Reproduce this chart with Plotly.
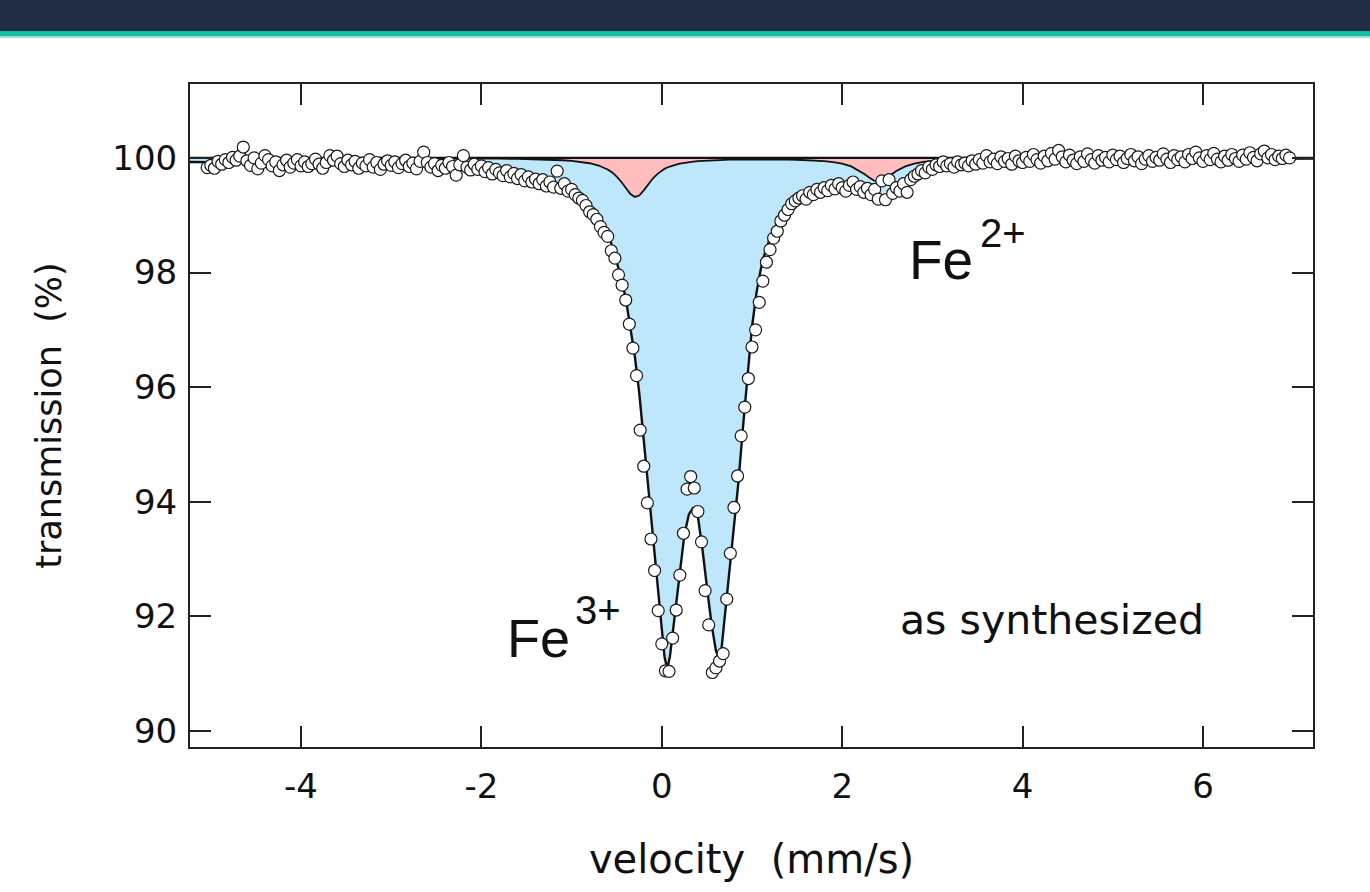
import plotly.graph_objects as go

# ---------------- data ----------------
velocity = [
    -5.04, -5.00, -4.96, -4.92, -4.88, -4.84, -4.80, -4.76, -4.72, -4.68,
    -4.64, -4.60, -4.56, -4.52, -4.48, -4.44, -4.40, -4.36, -4.32, -4.28,
    -4.24, -4.20, -4.16, -4.12, -4.08, -4.04, -4.00, -3.96, -3.92, -3.88,
    -3.84, -3.80, -3.76, -3.72, -3.68, -3.64, -3.60, -3.56, -3.52, -3.48,
    -3.44, -3.40, -3.36, -3.32, -3.28, -3.24, -3.20, -3.16, -3.12, -3.08,
    -3.04, -3.00, -2.96, -2.92, -2.88, -2.84, -2.80, -2.76, -2.72, -2.68,
    -2.64, -2.60, -2.56, -2.52, -2.48, -2.44, -2.40, -2.36, -2.32, -2.28,
    -2.24, -2.20, -2.16, -2.12, -2.08, -2.04, -2.00, -1.96, -1.92, -1.88,
    -1.84, -1.80, -1.76, -1.72, -1.68, -1.64, -1.60, -1.56, -1.52, -1.48,
    -1.44, -1.40, -1.36, -1.32, -1.28, -1.24, -1.20, -1.16, -1.12, -1.08,
    -1.04, -1.00, -0.96, -0.92, -0.88, -0.84, -0.80, -0.76, -0.72, -0.68,
    -0.64, -0.60, -0.56, -0.52, -0.48, -0.44, -0.40, -0.36, -0.32, -0.28,
    -0.24, -0.20, -0.16, -0.12, -0.08, -0.04, 0.00, 0.04, 0.08, 0.12,
    0.16, 0.20, 0.24, 0.28, 0.32, 0.36, 0.40, 0.44, 0.48, 0.52,
    0.56, 0.60, 0.64, 0.68, 0.72, 0.76, 0.80, 0.84, 0.88, 0.92,
    0.96, 1.00, 1.04, 1.08, 1.12, 1.16, 1.20, 1.24, 1.28, 1.32,
    1.36, 1.40, 1.44, 1.48, 1.52, 1.56, 1.60, 1.64, 1.68, 1.72,
    1.76, 1.80, 1.84, 1.88, 1.92, 1.96, 2.00, 2.04, 2.08, 2.12,
    2.16, 2.20, 2.24, 2.28, 2.32, 2.36, 2.40, 2.44, 2.48, 2.52,
    2.56, 2.60, 2.64, 2.68, 2.72, 2.76, 2.80, 2.84, 2.88, 2.92,
    2.96, 3.00, 3.04, 3.08, 3.12, 3.16, 3.20, 3.24, 3.28, 3.32,
    3.36, 3.40, 3.44, 3.48, 3.52, 3.56, 3.60, 3.64, 3.68, 3.72,
    3.76, 3.80, 3.84, 3.88, 3.92, 3.96, 4.00, 4.04, 4.08, 4.12,
    4.16, 4.20, 4.24, 4.28, 4.32, 4.36, 4.40, 4.44, 4.48, 4.52,
    4.56, 4.60, 4.64, 4.68, 4.72, 4.76, 4.80, 4.84, 4.88, 4.92,
    4.96, 5.00, 5.04, 5.08, 5.12, 5.16, 5.20, 5.24, 5.28, 5.32,
    5.36, 5.40, 5.44, 5.48, 5.52, 5.56, 5.60, 5.64, 5.68, 5.72,
    5.76, 5.80, 5.84, 5.88, 5.92, 5.96, 6.00, 6.04, 6.08, 6.12,
    6.16, 6.20, 6.24, 6.28, 6.32, 6.36, 6.40, 6.44, 6.48, 6.52,
    6.56, 6.60, 6.64, 6.68, 6.72, 6.76, 6.80, 6.84, 6.88, 6.92,
    6.96,
]

transmission = [
    99.83, 99.87, 99.82, 99.94, 99.89, 99.97, 99.92, 100.01, 99.96, 100.03,
    100.19, 99.95, 99.87, 100.00, 99.81, 99.91, 100.04, 99.97, 99.86, 99.93,
    99.78, 99.88, 99.96, 99.84, 99.91, 99.97, 99.86, 99.93, 99.85, 99.90,
    99.98, 99.89, 99.82, 99.92, 100.04, 99.96, 100.03, 99.90, 99.85, 99.96,
    99.88, 99.94, 99.82, 99.91, 99.86, 99.97, 99.84, 99.92, 99.80, 99.89,
    99.95, 99.87, 99.93, 99.83, 99.90, 99.96, 99.85, 99.91, 99.81, 99.94,
    100.10, 99.92, 99.84, 99.90, 99.78, 99.87, 99.82, 99.92, 99.85, 99.70,
    99.88, 100.04, 99.84, 99.79, 99.89, 99.80, 99.86, 99.76, 99.83, 99.72,
    99.80, 99.74, 99.69, 99.78, 99.67, 99.73, 99.64, 99.71, 99.60, 99.67,
    99.58, 99.63, 99.55, 99.62, 99.51, 99.58, 99.49, 99.77, 99.47, 99.55,
    99.42, 99.45, 99.36, 99.30, 99.26, 99.17, 99.06, 99.01, 98.93, 98.80,
    98.70, 98.63, 98.38, 98.25, 97.96, 97.78, 97.52, 97.10, 96.68, 96.20,
    95.25, 94.62, 93.98, 93.35, 92.80, 92.10, 91.52, 91.05, 91.04, 91.62,
    92.11, 92.72, 93.45, 94.22, 94.44, 94.24, 93.83, 93.30, 92.45, 91.85,
    91.02, 91.10, 91.22, 91.35, 92.30, 93.10, 93.90, 94.45, 95.15, 95.65,
    96.15, 96.70, 97.00, 97.48, 97.85, 98.18, 98.40, 98.60, 98.72, 98.90,
    99.00, 99.10, 99.20, 99.25, 99.30, 99.34, 99.28, 99.40, 99.36, 99.45,
    99.40, 99.48, 99.43, 99.52, 99.46, 99.55, 99.48, 99.42, 99.52, 99.58,
    99.45, 99.50, 99.40, 99.47, 99.36, 99.45, 99.28, 99.60, 99.27, 99.62,
    99.38, 99.48, 99.42, 99.55, 99.40, 99.62, 99.68, 99.72, 99.78, 99.74,
    99.84, 99.80, 99.88, 99.85, 99.93, 99.86, 99.90, 99.84, 99.93, 99.88,
    99.91, 99.86, 99.95, 99.89, 99.97, 99.91, 100.04, 99.93, 99.98, 99.90,
    100.02, 99.94, 99.99, 99.89, 100.03, 99.95, 99.92, 100.01, 99.94, 100.06,
    99.97, 99.91, 100.03, 99.95, 100.08, 99.98, 100.13, 100.02, 99.93, 100.05,
    99.96, 99.90, 100.02, 99.94, 100.07, 99.97, 99.91, 100.04, 99.96, 100.01,
    99.93, 100.05, 99.97, 100.03, 99.92, 99.99, 100.06, 99.95, 100.02, 99.90,
    99.98, 100.04, 99.94, 100.01, 99.96, 100.07, 99.98, 99.92, 100.04, 99.97,
    100.02, 99.93, 100.06, 99.99, 100.10, 100.00, 99.94, 100.04, 99.97, 100.08,
    99.98, 99.93, 100.03, 99.96, 100.06, 99.99, 99.94, 100.05, 99.98, 100.09,
    100.01, 99.95, 100.07, 100.12, 100.00, 100.06, 99.97, 100.03, 99.99, 100.05,
    100.00,
]

# fitted curves
curve_velocity = [
    -5.25, -4.5, -4.0, -3.5, -3.0, -2.5, -2.0, -1.8, -1.6, -1.4,
    -1.2, -1.1, -1.0, -0.9, -0.8, -0.7, -0.6, -0.55, -0.5, -0.45,
    -0.4, -0.35, -0.3, -0.25, -0.2, -0.15, -0.1, -0.05, 0.0, 0.03,
    0.06, 0.09, 0.12, 0.15, 0.2, 0.25, 0.3, 0.35, 0.4, 0.45,
    0.5, 0.55, 0.6, 0.63, 0.66, 0.7, 0.75, 0.8, 0.85, 0.9,
    0.95, 1.0, 1.05, 1.1, 1.15, 1.2, 1.3, 1.4, 1.5, 1.6,
    1.7, 1.8, 1.9, 2.0, 2.1, 2.2, 2.25, 2.3, 2.35, 2.4,
    2.45, 2.5, 2.55, 2.6, 2.7, 2.8, 2.9, 3.0, 3.2, 3.5,
    4.0, 5.0, 6.0, 7.25,
]

fe2_curve = [
    100.0, 100.0, 100.0, 99.996, 99.996, 99.994, 99.99, 99.987, 99.983, 99.977,
    99.967, 99.959, 99.948, 99.932, 99.907, 99.867, 99.798, 99.747, 99.675, 99.584,
    99.476, 99.374, 99.32, 99.344, 99.433, 99.542, 99.641, 99.717, 99.778, 99.809,
    99.833, 99.852, 99.868, 99.88, 99.899, 99.914, 99.925, 99.935, 99.943, 99.949,
    99.954, 99.958, 99.961, 99.963, 99.965, 99.967, 99.969, 99.97, 99.972, 99.973,
    99.974, 99.974, 99.975, 99.975, 99.975, 99.975, 99.974, 99.972, 99.968, 99.964,
    99.956, 99.945, 99.928, 99.9, 99.852, 99.771, 99.716, 99.656, 99.606, 99.586,
    99.606, 99.657, 99.717, 99.772, 99.853, 99.901, 99.93, 99.948, 99.968, 99.981,
    99.99, 99.995, 99.997, 99.998,
]

total_curve = [
    99.93, 99.92, 99.91, 99.9, 99.88, 99.86, 99.82, 99.78, 99.72, 99.64,
    99.55, 99.49, 99.42, 99.31, 99.14, 98.92, 98.66, 98.47, 98.2, 97.9,
    97.55, 97.08, 96.55, 95.9, 95.05, 94.25, 93.45, 92.62, 91.78, 91.3,
    91.08, 91.3, 91.7, 92.12, 92.85, 93.42, 93.78, 93.9, 93.74, 93.18,
    92.52, 91.88, 91.4, 91.28, 91.4, 92.0, 92.82, 93.6, 94.35, 95.3,
    96.2, 97.05, 97.65, 98.08, 98.38, 98.6, 98.93, 99.14, 99.28, 99.37,
    99.43, 99.47, 99.49, 99.49, 99.47, 99.43, 99.4, 99.36, 99.33, 99.31,
    99.33, 99.37, 99.43, 99.49, 99.6, 99.7, 99.77, 99.82, 99.87, 99.91,
    99.94, 99.97, 99.98, 99.99,
]

baseline_level = 100.0
x_ticks = [-4, -2, 0, 2, 4, 6]
y_ticks = [90, 92, 94, 96, 98, 100]

# ---------------- figure ----------------
fig = go.Figure()

fig.add_trace(go.Scatter(
    x=curve_velocity, y=[baseline_level] * len(curve_velocity),
    mode="lines", line=dict(color="#111111", width=2.2),
    hoverinfo="skip", showlegend=False))

fig.add_trace(go.Scatter(
    x=curve_velocity, y=fe2_curve, mode="lines",
    line=dict(color="#111111", width=1.8),
    fill="tonexty", fillcolor="#ffbdbd",
    hoverinfo="skip", showlegend=False))

fig.add_trace(go.Scatter(
    x=curve_velocity, y=total_curve, mode="lines",
    line=dict(color="#111111", width=2.4),
    fill="tonexty", fillcolor="#bfe7fb",
    hoverinfo="skip", showlegend=False))

fig.add_trace(go.Scatter(
    x=velocity, y=transmission, mode="markers",
    marker=dict(symbol="circle", size=12, color="white",
                line=dict(color="#1a1a1a", width=1.2)),
    showlegend=False))

axis_font = dict(family="DejaVu Sans", size=34, color="#111111")

fig.update_xaxes(
    range=[-5.231, 7.22], tickvals=x_ticks, ticktext=[str(v) for v in x_ticks],
    ticks="inside", ticklen=21, tickwidth=2, tickcolor="#222222",
    showline=True, linewidth=2, linecolor="#222222", mirror="ticks",
    showgrid=False, zeroline=False, tickfont=axis_font,
    ticklabelstandoff=8,
    title=dict(text="velocity\u00a0 (mm/s)", standoff=40,
               font=dict(family="DejaVu Sans", size=40, color="#111111")),
    automargin=False,
)
fig.update_yaxes(
    range=[89.72, 101.29], tickvals=y_ticks, ticktext=[str(v) for v in y_ticks],
    ticks="inside", ticklen=21, tickwidth=2, tickcolor="#222222",
    showline=True, linewidth=2, linecolor="#222222", mirror="ticks",
    showgrid=False, zeroline=False, tickfont=axis_font,
    ticklabelstandoff=4,
    title=dict(text="transmission\u00a0 (%)", standoff=40,
               font=dict(family="DejaVu Sans", size=35, color="#111111")),
    automargin=False,
)

label_font = "Liberation Sans"
annotations = [
    dict(x=-1.738, y=91.63, text="Fe", size=54),
    dict(x=-0.984, y=92.11, text="3+", size=40),
    dict(x=2.718, y=98.22, text="Fe", size=55),
    dict(x=3.505, y=98.69, text="2+", size=40),
]
for a in annotations:
    fig.add_annotation(x=a["x"], y=a["y"], xref="x", yref="y", text=a["text"],
                       showarrow=False, xanchor="left", yanchor="middle",
                       font=dict(family=label_font, size=a["size"], color="#111111"))
fig.add_annotation(x=2.618, y=91.93, xref="x", yref="y", text="as synthesized",
                   showarrow=False, xanchor="left", yanchor="middle",
                   font=dict(family="DejaVu Sans", size=41, color="#111111"))

# slide header band
fig.add_shape(type="rect", xref="paper", yref="paper", x0=-0.2, x1=1.1,
              y0=1.0799, y1=1.14, line=dict(width=0), fillcolor="#212d44", layer="above")
fig.add_shape(type="rect", xref="paper", yref="paper", x0=-0.2, x1=1.1,
              y0=1.0724, y1=1.0799, line=dict(width=0), fillcolor="#10bea4", layer="above")
fig.add_shape(type="rect", xref="paper", yref="paper", x0=-0.2, x1=1.1,
              y0=1.0694, y1=1.0724, line=dict(width=0), fillcolor="#9adfd2", layer="above")

fig.update_layout(
    width=1370, height=892, autosize=False,
    margin=dict(l=190, r=57, t=84, b=145),
    paper_bgcolor="white", plot_bgcolor="white",
    showlegend=False,
)

fig.write_html("out.html",
               config={"displayModeBar": False},
               post_script="document.body.style.margin='0';document.body.style.overflow='hidden';")
